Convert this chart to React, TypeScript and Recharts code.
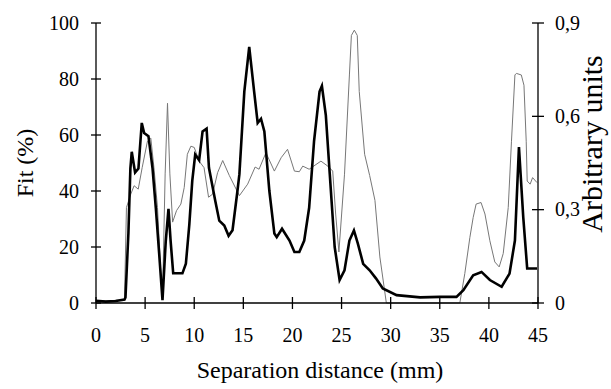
import { CartesianGrid, Line, LineChart, XAxis, YAxis } from "recharts";

// Fit (%) – thick black trace, left axis
const fitX = [
  0, 1, 2, 2.9, 3.0, 3.3, 3.5, 3.64, 3.98, 4.32, 4.66, 4.9, 5.34, 5.75, 6.09, 6.43, 6.77, 7.1,
  7.38, 7.6, 7.86, 8.8, 9.15, 9.5, 9.8, 10.1, 10.5, 10.85, 11.26, 11.5, 12.14, 12.55, 13.06,
  13.5, 13.9, 14.4, 14.6, 15.1, 15.6, 16.1, 16.46, 16.8, 17.14, 17.65, 18.16, 18.4, 18.94, 19.7,
  20.2, 20.7, 21.2, 21.7, 22.2, 22.76, 23, 23.4, 23.8, 24.3, 24.8, 25.3, 25.8, 26.26, 26.66,
  27.2, 27.86, 28.5, 29.2, 30.6, 33, 35, 36.7, 37.4, 38.4, 39.25, 40.1, 41.3, 42.1, 42.65,
  43.06, 43.5, 43.9, 44.9,
];
const fitY = [
  0.8, 0.5, 0.7, 1.2, 2, 25, 48, 54, 46.6, 48, 64.3, 60.7, 59.6, 48.3, 34, 17.7, 1, 22, 33.6, 22,
  10.6, 10.6, 14, 28, 43.6, 53, 51, 61.3, 62.3, 48.3, 36.5, 29.4, 27.7, 24, 26, 40, 46, 75.5,
  91.5, 75.5, 64.3, 65.8, 61.3, 40, 24.8, 23.5, 26.5, 22.3, 18.2, 18.2, 22.3, 34, 57.8, 75.5,
  77.5, 67, 46, 20, 8.2, 11.7, 22.3, 25.9, 21.2, 14, 11.7, 8.8, 5.2, 2.8, 2, 2.2, 2.2, 4.6, 9.9,
  11.1, 8.2, 5.8, 10.5, 22.3, 55.7, 30.6, 12.3, 12.3,
];

// Arbitrary units – thin grey trace, right axis
const unitX = [
  0, 2.9, 3.1, 3.54, 3.88, 4.3, 4.7, 5.24, 5.58, 5.9, 6.26, 6.6, 6.77, 7.04, 7.28, 7.52, 7.8,
  8.2, 8.64, 8.98, 9.3, 9.66, 10, 10.5, 11, 11.46, 11.87, 12.38, 12.9, 13.57, 14.6, 15.44, 16.2,
  16.6, 17.3, 18.16, 18.85, 19.5, 20.2, 20.7, 21.05, 21.7, 22.9, 23.6, 24.1, 24.4, 24.73, 25.3,
  25.8, 26.0, 26.3, 26.6, 26.8, 27.35, 27.86, 28.4, 28.9, 29.56, 37.04, 37.55, 38.06, 38.4, 38.7,
  39.2, 39.6, 40.1, 40.6, 41.05, 41.46, 41.97, 42.3, 42.65, 42.8, 43.3, 43.57, 43.8, 43.9, 44.2,
  44.45, 44.9,
];
const unitY = [
  0.005, 0.01, 0.307, 0.35, 0.377, 0.366, 0.435, 0.52, 0.53, 0.435, 0.307, 0.095, 0.01, 0.415,
  0.642, 0.415, 0.26, 0.297, 0.318, 0.371, 0.478, 0.504, 0.5, 0.456, 0.435, 0.34, 0.35, 0.419,
  0.458, 0.41, 0.345, 0.382, 0.437, 0.43, 0.483, 0.424, 0.467, 0.494, 0.424, 0.422, 0.44, 0.43,
  0.456, 0.44, 0.424, 0.286, 0.164, 0.414, 0.733, 0.86, 0.877, 0.86, 0.68, 0.478, 0.41, 0.33,
  0.148, 0, 0, 0.095, 0.21, 0.275, 0.318, 0.323, 0.286, 0.2, 0.132, 0.116, 0.159, 0.307, 0.52,
  0.733, 0.738, 0.733, 0.7, 0.52, 0.392, 0.382, 0.403, 0.387,
];

const xTicks = [0, 5, 10, 15, 20, 25, 30, 35, 40, 45];
const fitTicks = [0, 20, 40, 60, 80, 100];
const unitTicks = [0, 0.3, 0.6, 0.9];

const fitData = fitX.map((x, i) => ({ x, y: fitY[i] }));
const unitData = unitX.map((x, i) => ({ x, y: unitY[i] }));

const font = "'Liberation Serif', 'Times New Roman', serif";

function formatUnit(v: number) {
  return v === 0 ? "0" : v.toFixed(1).replace(".", ",");
}

function LeftTick({ x, y, payload }: any) {
  return (
    <g>
      <line x1={x - 5} x2={x + 5} y1={y} y2={y} stroke="#000" strokeWidth={1.3} />
      <text x={x - 17} y={y} dy="0.34em" textAnchor="end" fontFamily={font} fontSize={20} fill="#000">
        {payload.value}
      </text>
    </g>
  );
}

function RightTick({ x, y, payload }: any) {
  return (
    <g>
      <line x1={x - 6} x2={x + 6} y1={y} y2={y} stroke="#000" strokeWidth={1.3} />
      <text x={x + 17} y={y} dy="0.34em" textAnchor="start" fontFamily={font} fontSize={20} fill="#000">
        {formatUnit(payload.value)}
      </text>
    </g>
  );
}

function BottomTick({ x, y, payload }: any) {
  return (
    <g>
      <line x1={x} x2={x} y1={y - 6} y2={y + 6} stroke="#000" strokeWidth={1.3} />
      <text x={x} y={y + 39} textAnchor="middle" fontFamily={font} fontSize={20} fill="#000">
        {payload.value}
      </text>
    </g>
  );
}

function FitTitle({ viewBox }: any) {
  const cx = viewBox.x + 25;
  const cy = viewBox.y + viewBox.height / 2;
  return (
    <text x={cx} y={cy} transform={`rotate(-90 ${cx} ${cy})`} textAnchor="middle" dy="0.34em"
      fontFamily={font} fontSize={24} fill="#000">
      Fit (%)
    </text>
  );
}

function UnitTitle({ viewBox }: any) {
  const cx = viewBox.x + 54;
  const cy = viewBox.y + 121;
  return (
    <text x={cx} y={cy} transform={`rotate(-90 ${cx} ${cy})`} textAnchor="middle" dy="0.34em"
      fontFamily={font} fontSize={30} fill="#000">
      Arbitrary units
    </text>
  );
}

function XTitle({ viewBox }: any) {
  return (
    <text x={viewBox.x + viewBox.width / 2 + 3} y={viewBox.y + 75} textAnchor="middle"
      fontFamily={font} fontSize={24} fill="#000">
      Separation distance (mm)
    </text>
  );
}

export default function App() {
  return (
    <div style={{ position: "absolute", left: 0, top: 0, background: "#fff" }}>
      <LineChart width={611} height={389} margin={{ top: 23, right: 0, bottom: 0, left: 0 }}>
        <CartesianGrid stroke="none" />
        <XAxis
          type="number"
          dataKey="x"
          domain={[0, 45]}
          ticks={xTicks}
          interval={0}
          height={86}
          tickSize={0}
          tickMargin={0}
          tick={BottomTick}
          axisLine={{ stroke: "#000", strokeWidth: 1.3 }}
          allowDataOverflow
          label={{ content: XTitle }}
        />
        <YAxis
          yAxisId="fit"
          domain={[0, 100]}
          ticks={fitTicks}
          interval={0}
          width={96}
          tickSize={0}
          tickMargin={0}
          tick={LeftTick}
          axisLine={{ stroke: "#000", strokeWidth: 1.3 }}
          label={{ content: FitTitle }}
        />
        <YAxis
          yAxisId="units"
          orientation="right"
          domain={[0, 0.9]}
          ticks={unitTicks}
          interval={0}
          width={73}
          tickSize={0}
          tickMargin={0}
          tick={RightTick}
          axisLine={{ stroke: "#000", strokeWidth: 1.3 }}
          label={{ content: UnitTitle }}
        />
        <Line
          yAxisId="units"
          data={unitData}
          dataKey="y"
          type="linear"
          stroke="#777"
          strokeWidth={1}
          dot={false}
          isAnimationActive={false}
        />
        <Line
          yAxisId="fit"
          data={fitData}
          dataKey="y"
          type="linear"
          stroke="#000"
          strokeWidth={2.6}
          dot={false}
          isAnimationActive={false}
        />
      </LineChart>
    </div>
  );
}
